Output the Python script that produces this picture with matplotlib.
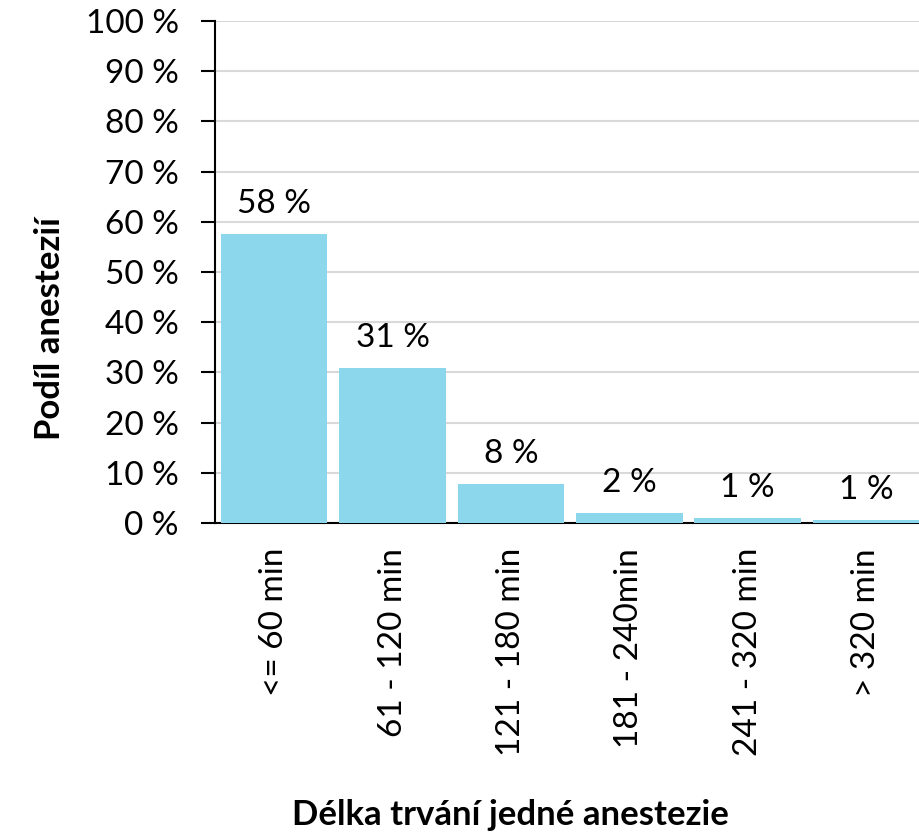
import matplotlib
matplotlib.use("Agg")
import matplotlib.pyplot as plt

categories = ["<= 60 min", "61 - 120 min", "121 - 180 min", "181 - 240min",
              "241 - 320 min", "> 320 min"]
values = [57.6, 30.9, 7.8, 2.0, 1.0, 0.6]
labels = ["58 %", "31 %", "8 %", "2 %", "1 %", "1 %"]
yticks = list(range(0, 101, 10))
ytick_labels = [f"{t} %" for t in yticks]

plt.rcParams['font.family'] = ['Lato', 'DejaVu Sans']

fig = plt.figure(figsize=(9.2, 8.36), dpi=100)
ax = fig.add_axes([0.2337, 0.3744, 0.772, 0.6005])

x = range(len(categories))
ax.bar(x, values, width=0.9, color="#8DD7EC", zorder=3)

for xi, v, lab in zip(x, values, labels):
    ax.annotate(lab, (xi, v), xytext=(0, 11), textcoords="offset points",
                ha="center", va="bottom", fontsize=24)

ax.set_xlim(-0.5, len(categories) - 0.5)
ax.set_ylim(0, 100)
ax.set_yticks(yticks)
ax.set_yticklabels(ytick_labels, fontsize=24)
ax.set_xticks(list(x))
ax.set_xticklabels(categories, rotation=90, fontsize=24)
ax.tick_params(axis="x", length=0, pad=18)
ax.tick_params(axis="y", length=10, width=1.5, direction="out", pad=16)
ax.grid(axis="y", color="#d9d9d9", linewidth=1.5, zorder=0)

for s in ["top", "right"]:
    ax.spines[s].set_visible(False)
ax.spines["left"].set_linewidth(1.5)
ax.spines["bottom"].set_linewidth(1.5)

fig.text(0.0545, 1 - 329 / 836, "Podíl anestezií", rotation=90, ha="center",
         va="center", fontsize=25, fontweight="bold")
fig.text(510 / 920, 1 - 815 / 836, "Délka trvání jedné anestezie", ha="center",
         va="center", fontsize=25, fontweight="bold")

fig.savefig("out.png", dpi=100)
